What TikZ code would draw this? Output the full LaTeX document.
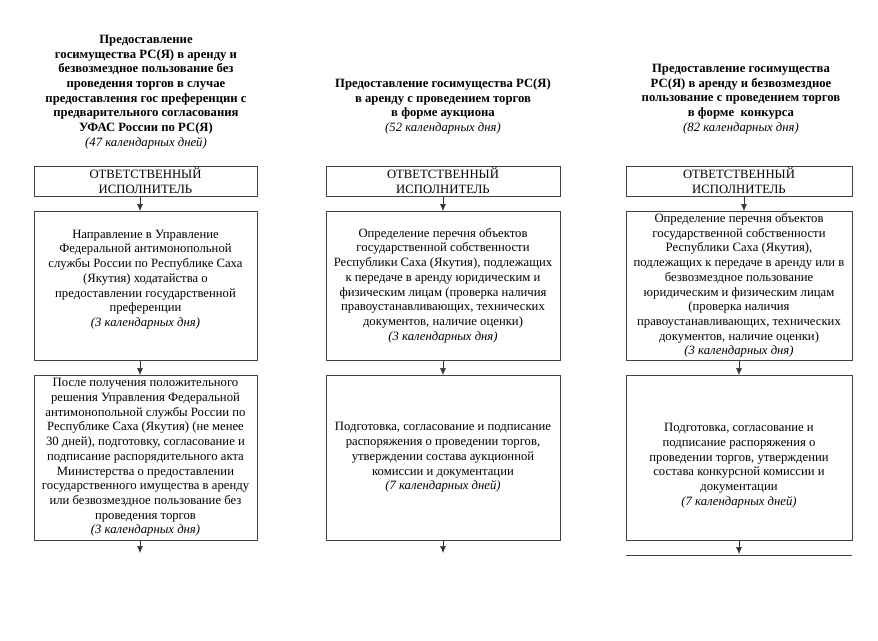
\documentclass[tikz,border=0pt]{standalone}
\usepackage{fontspec}
\setmainfont{Liberation Serif}
\usetikzlibrary{arrows.meta}
\begin{document}
\begin{tikzpicture}[x=1pt,y=-1pt,
  every node/.style={inner sep=0pt,outer sep=0pt},
  txt/.style={font=\fontsize{12.7}{14.7}\selectfont,align=center,text=black},
  hdr/.style={txt,font=\fontsize{12.7}{14.7}\selectfont\bfseries},
  box/.style={txt,draw=black!75,line width=0.6pt,rectangle},
  arr/.style={draw=black!80,line width=0.6pt,-{Latex[length=7pt,width=6pt]}}
]
\useasboundingbox (0,0) rectangle (878,640);

% headers
\node[hdr] (h1) at (146,92) {Предоставление\\госимущества РС(Я) в аренду и\\безвозмездное пользование без\\проведения торгов в случае\\предоставления гос преференции с\\предварительного согласования\\УФАС России по РС(Я)\\{\mdseries\itshape (47 календарных дней)}};
\node[hdr] (h2) at (443,106.5) {Предоставление госимущества РС(Я)\\в аренду с проведением торгов\\в форме аукциона\\{\mdseries\itshape (52 календарных дня)}};
\node[hdr] (h3) at (741,99) {Предоставление госимущества\\РС(Я) в аренду и безвозмездное\\пользование с проведением торгов\\в форме\ \ конкурса\\{\mdseries\itshape (82 календарных дня)}};

% column 1
\node[box,minimum width=223,minimum height=30] (oi1) at (145.5,181) {ОТВЕТСТВЕННЫЙ\\ИСПОЛНИТЕЛЬ};
\node[box,minimum width=223,minimum height=149] (b1) at (145.5,285.5) {Направление в Управление\\Федеральной антимонопольной\\службы России по Республике Саха\\(Якутия) ходатайства о\\предоставлении государственной\\преференции\\{\itshape (3 календарных дня)}\\\mbox{}};
\node[box,minimum width=223,minimum height=165] (c1) at (145.5,457.5) {После получения положительного\\решения Управления Федеральной\\антимонопольной службы России по\\Республике Саха (Якутия) (не менее\\30 дней), подготовку, согласование и\\подписание распорядительного акта\\Министерства о предоставлении\\государственного имущества в аренду\\или безвозмездное пользование без\\проведения торгов\\{\itshape (3 календарных дня)}};
\coordinate (e1) at (140,553);

% column 2
\node[box,minimum width=234,minimum height=30] (oi2) at (443,181) {ОТВЕТСТВЕННЫЙ\\ИСПОЛНИТЕЛЬ};
\node[box,minimum width=234,minimum height=149] (b2) at (443,285.5) {Определение перечня объектов\\государственной собственности\\Республики Саха (Якутия), подлежащих\\к передаче в аренду юридическим и\\физическим лицам (проверка наличия\\правоустанавливающих, технических\\документов, наличие оценки)\\{\itshape (3 календарных дня)}};
\node[box,minimum width=234,minimum height=165] (c2) at (443,457.5) {Подготовка, согласование и подписание\\распоряжения о проведении торгов,\\утверждении состава аукционной\\комиссии и документации\\{\itshape (7 календарных дней)}};
\coordinate (e2) at (443,553);

% column 3
\node[box,minimum width=226,minimum height=30] (oi3) at (739,181) {ОТВЕТСТВЕННЫЙ\\ИСПОЛНИТЕЛЬ};
\node[box,minimum width=226,minimum height=149] (b3) at (739,285.5) {Определение перечня объектов\\государственной собственности\\Республики Саха (Якутия),\\подлежащих к передаче в аренду или в\\безвозмездное пользование\\юридическим и физическим лицам\\(проверка наличия\\правоустанавливающих, технических\\документов, наличие оценки)\\{\itshape (3 календарных дня)}};
\node[box,minimum width=226,minimum height=165] (c3) at (739,457.5) {\mbox{}\\[10pt]Подготовка, согласование и\\подписание распоряжения о\\проведении торгов, утверждении\\состава конкурсной комиссии и\\документации\\{\itshape (7 календарных дней)}};
\coordinate (e3) at (739,554);
\coordinate (l3a) at (626,555);
\coordinate (l3b) at (852,555);

% connectors
\draw[arr] ([xshift=-5.5pt]oi1.south) -- ([xshift=-5.5pt]b1.north);
\draw[arr] ([xshift=-5.5pt]b1.south) -- ([xshift=-5.5pt]c1.north);
\draw[arr] ([xshift=-5.5pt]c1.south) -- (e1);
\draw[arr] (oi2.south) -- (b2.north);
\draw[arr] (b2.south) -- (c2.north);
\draw[arr] (c2.south) -- (e2);
\draw[arr] ([xshift=5pt]oi3.south) -- ([xshift=5pt]b3.north);
\draw[arr] (b3.south) -- (c3.north);
\draw[arr] (c3.south) -- (e3);
\draw[draw=black!75,line width=0.6pt] (l3a) -- (l3b);
\end{tikzpicture}
\end{document}
